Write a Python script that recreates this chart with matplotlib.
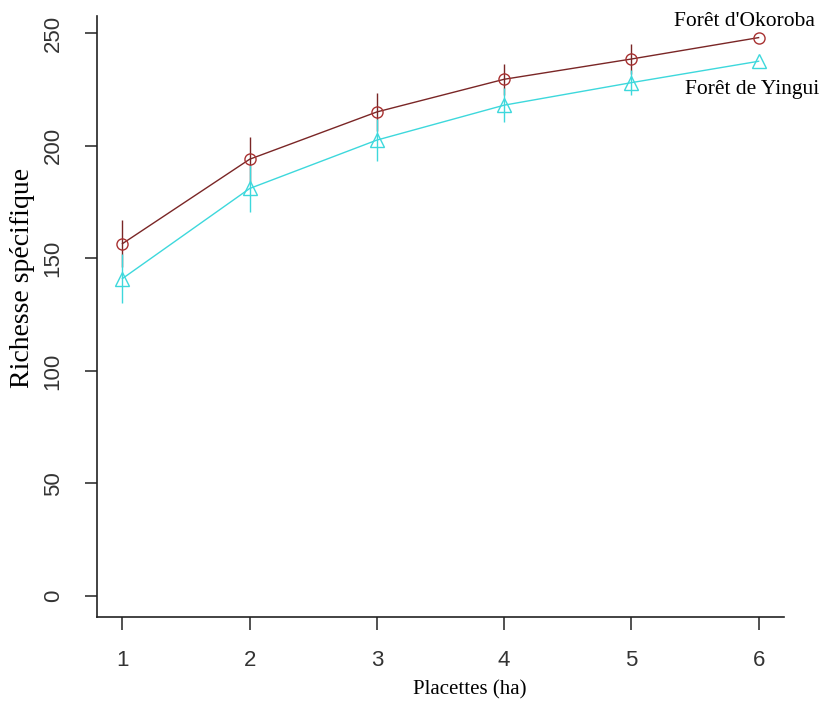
import matplotlib
matplotlib.use("Agg")
import matplotlib.pyplot as plt

# placettes (ha)
placettes = [1, 2, 3, 4, 5, 6]

# richesse specifique moyenne et ecart-type
okoroba_mean = [156.5, 194, 215, 229.5, 238.5, 248]
okoroba_sd = [10.5, 10, 8.5, 7, 6.5, 0]
yingui_mean = [141, 181, 202.5, 218, 228, 237.5]
yingui_sd = [11, 10.5, 9.5, 7.5, 5.5, 0]

red = "#a83232"
red_dark = "#7a2626"
cyan = "#3dd8dc"

fig = plt.figure(figsize=(8.24, 7.05), dpi=100)
ax = fig.add_axes([0.1177, 0.1248, 0.8338, 0.8525])

# courbes
ax.plot(placettes, okoroba_mean, color=red_dark, lw=1.0, marker="o", ms=8,
        mfc="none", mec=red, mew=1.0, zorder=3)
ax.plot(placettes, yingui_mean, color=cyan, lw=1.0, marker="^", ms=10,
        mfc="none", mec=cyan, mew=1.0, zorder=3)

# barres d'erreur
ax.errorbar(placettes, okoroba_mean, yerr=okoroba_sd, fmt="none",
            ecolor=red_dark, elinewidth=1.0, capsize=0, zorder=2)
ax.errorbar(placettes, yingui_mean, yerr=yingui_sd, fmt="none",
            ecolor=cyan, elinewidth=1.0, capsize=0, zorder=2)

ax.text(5.89, 255, "Forêt d'Okoroba", family="Liberation Serif", fontsize=15.5,
        ha="center", va="center", clip_on=False)
ax.text(5.42, 225, "Forêt de Yingui", family="Liberation Serif", fontsize=15.5,
        ha="left", va="center", clip_on=False)

ax.set_xlim(0.8, 6.2)
ax.set_ylim(-9.3, 257.6)
ax.set_xticks(placettes)
ax.set_yticks([0, 50, 100, 150, 200, 250])

for s in ["top", "right"]:
    ax.spines[s].set_visible(False)
for s in ["left", "bottom"]:
    ax.spines[s].set_linewidth(1.2)
    ax.spines[s].set_color("#222222")

ax.tick_params(length=9, width=1.1, color="#222222", pad=15, labelsize=16)
for lab in ax.get_xticklabels() + ax.get_yticklabels():
    lab.set_family("Liberation Sans")
    lab.set_color("#333333")
for lab in ax.get_yticklabels():
    lab.set_rotation(90)
    lab.set_va("center")

fig.text(0.57, 0.021, "Placettes (ha)", family="Liberation Serif", fontsize=15,
         ha="center", va="center")
fig.text(0.027, 0.606, "Richesse spécifique", family="Liberation Serif", fontsize=20,
         ha="center", va="center", rotation=90)

fig.savefig("out.png", dpi=100)
